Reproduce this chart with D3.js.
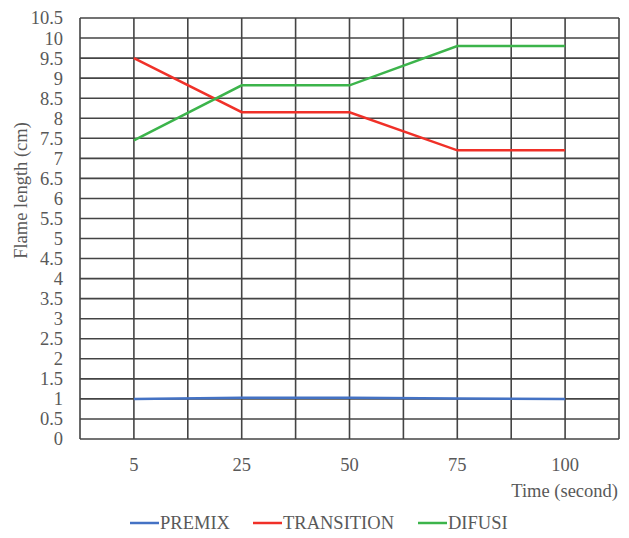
<!DOCTYPE html>
<html><head><meta charset="utf-8">
<script src="https://cdn.jsdelivr.net/npm/d3@7"></script>
<style>body{margin:0;background:#fff}</style>
</head><body><svg id="c" width="629" height="538"></svg>
<script>
const categories = ["5","25","50","75","100"];
const premix = [1.0, 1.03, 1.03, 1.01, 1.0];
const transition = [9.5, 8.15, 8.15, 7.2, 7.2];
const difusi = [7.45, 8.82, 8.82, 9.8, 9.8];
const yTicks = d3.range(0, 10.51, 0.5);
const series = [
  {name:"PREMIX", values:premix, color:"#4472C4"},
  {name:"TRANSITION", values:transition, color:"#F03028"},
  {name:"DIFUSI", values:difusi, color:"#3CB44B"}
];
const svg = d3.select("#c");
const L=80, R=619, T=18, B=439;
const x = d3.scaleBand().domain(categories).range([L,R]);
const y = d3.scaleLinear().domain([0,10.5]).range([B,T]);
const font = "'Liberation Serif', 'Times New Roman', serif";
const fs = 18.5;
const g = svg.append("g");
g.selectAll(".hg").data(yTicks).enter().append("line")
 .attr("x1",L).attr("x2",R).attr("y1",d=>y(d)).attr("y2",d=>y(d))
 .attr("stroke","#444").attr("stroke-width",1.6);
const vx = [];
categories.forEach(c=>{vx.push(x(c)); vx.push(x(c)+x.bandwidth()/2);});
vx.push(R);
g.selectAll(".vg").data(vx).enter().append("line")
 .attr("x1",d=>d).attr("x2",d=>d).attr("y1",T).attr("y2",B)
 .attr("stroke","#444").attr("stroke-width",1.6);
g.selectAll(".yl").data(yTicks).enter().append("text")
 .attr("x",L-17).attr("y",d=>y(d)).attr("dy","0.35em").attr("text-anchor","end")
 .attr("font-family",font).attr("font-size",fs).attr("fill","#595959")
 .text(d=>d3.format("~g")(d));
g.selectAll(".xl").data(categories).enter().append("text")
 .attr("x",d=>x(d)+x.bandwidth()/2).attr("y",471).attr("text-anchor","middle")
 .attr("font-family",font).attr("font-size",fs).attr("fill","#595959").text(d=>d);
svg.append("text").attr("x",618).attr("y",497).attr("text-anchor","end")
 .attr("font-family",font).attr("font-size",fs).attr("fill","#595959").text("Time (second)");
svg.append("text").attr("transform","translate(27,"+((T+B)/2-38)+") rotate(-90)")
 .attr("text-anchor","middle").attr("font-family",font).attr("font-size",fs).attr("fill","#595959")
 .text("Flame length (cm)");
const line = d3.line().x((d,i)=>x(categories[i])+x.bandwidth()/2).y(d=>y(d));
series.forEach(s=>{
  svg.append("path").datum(s.values).attr("d",line).attr("fill","none")
   .attr("stroke",s.color).attr("stroke-width",2.5);
});
const leg = [130,253,418];
series.forEach((s,i)=>{
  const lx = leg[i];
  svg.append("line").attr("x1",lx).attr("x2",lx+29).attr("y1",523).attr("y2",523)
   .attr("stroke",s.color).attr("stroke-width",2.5);
  svg.append("text").attr("x",lx+30).attr("y",529).attr("font-family",font)
   .attr("font-size",fs).attr("fill","#595959").text(s.name);
});
</script></body></html>
